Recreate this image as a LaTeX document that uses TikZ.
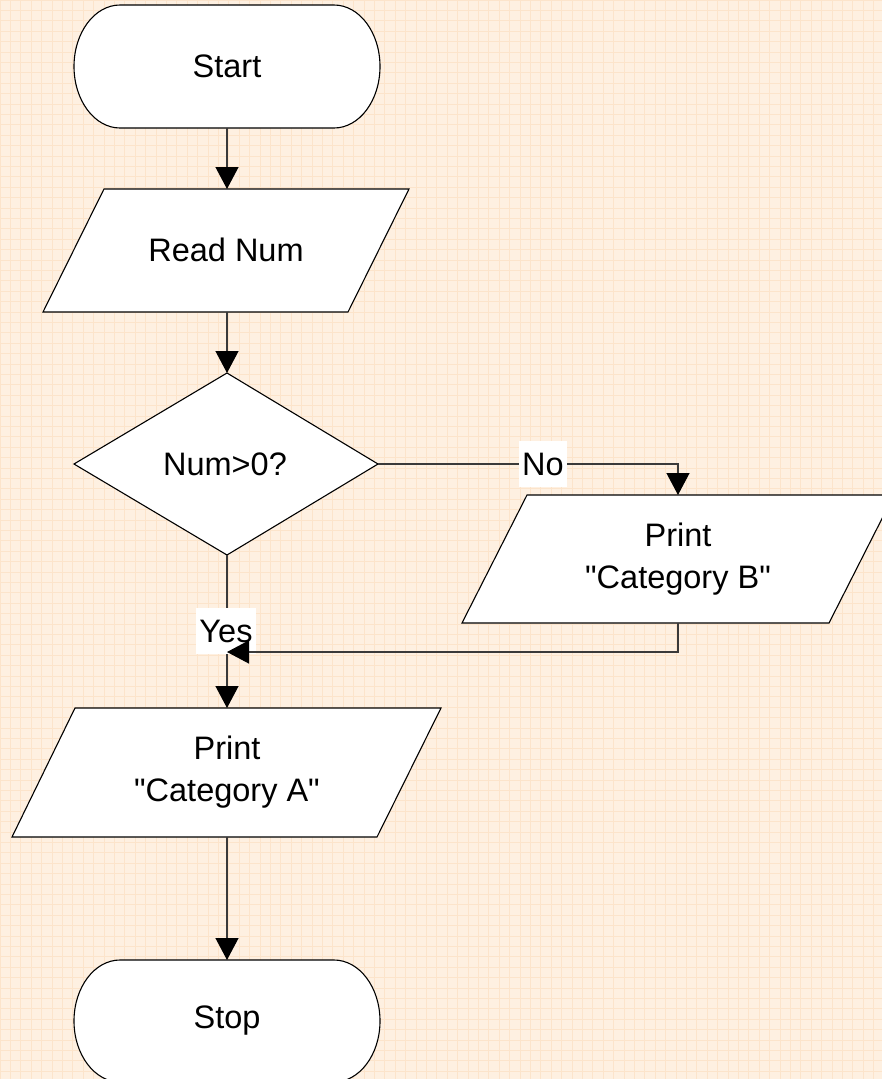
\documentclass[tikz,border=0pt]{standalone}
\usepackage{fontspec}
\setmainfont{Liberation Sans}[Ligatures=TeXOff]
\usetikzlibrary{arrows.meta,calc}

\definecolor{paper}{HTML}{FEF0E1}
\definecolor{gridline}{HTML}{FCE4CB}
\definecolor{wire}{HTML}{3A3A3A}

\tikzset{
  shapeline/.style={draw=black, fill=white, line width=1.1pt, line join=miter},
  wireline/.style={draw=wire, line width=1.3pt},
  flow/.style={wireline, -{Triangle[width=23pt,length=22pt,color=black,fill=black]}},
  lbl/.style={font=\fontsize{32.5}{42}\selectfont, align=center, inner sep=0pt},
  tag/.style={lbl, fill=white, inner xsep=3pt, minimum height=46pt},
}

% terminal (stadium) with centre #1, half width #2, half height #3
\newcommand{\terminalpath}[3]{%
  \path[shapeline] ($#1+(-#2+46,-#3)$) -- ($#1+(#2-46,-#3)$)
    arc[start angle=-90, end angle=90, x radius=46, y radius=#3]
    -- ($#1+(-#2+46,#3)$)
    arc[start angle=90, end angle=270, x radius=46, y radius=#3] -- cycle;}

\begin{document}
\begin{tikzpicture}[x=1pt, y=-1pt]
  % paper with fine grid
  \fill[paper] (0,0) rectangle (882,1079);
  \useasboundingbox (0,0) rectangle (882,1079);
  \begin{scope}
    \clip (0,0) rectangle (882,1079);
    \foreach \g in {0,10.4,...,1090} {
      \draw[gridline, line width=0.7pt] (\g,0) -- (\g,1079);
      \draw[gridline, line width=0.7pt] (0,\g) -- (882,\g);
    }
  \end{scope}

  % ---- shapes ----
  \begin{scope}
    \clip (0,0) rectangle (882,1079);
    % Start
    \terminalpath{(227,66.5)}{153}{61.5}
    \node[lbl] (start) at (227,66.5) {Start};
    \coordinate (startS) at (227,128);

    % Read Num
    \path[shapeline] (104,189) -- (409,189) -- (348,312) -- (43,312) -- cycle;
    \node[lbl] (read) at (226,250) {Read Num};
    \coordinate (readN) at (227,189);
    \coordinate (readS) at (227,312);

    % decision
    \path[shapeline] (227,373) -- (378,464) -- (227,555) -- (74,464) -- cycle;
    \node[lbl] (dec) at (225,464) {Num>0?};
    \coordinate (decN) at (227,373);
    \coordinate (decE) at (378,464);
    \coordinate (decS) at (227,555);

    % Print Category B
    \path[shapeline] (527,495) -- (894,495) -- (829,623) -- (462,623) -- cycle;
    \node[lbl] (pb) at (678,559) {Print\\"Category B"};
    \coordinate (pbN) at (678,495);
    \coordinate (pbS) at (678,623);

    % Print Category A
    \path[shapeline] (75,708) -- (441,708) -- (377,837) -- (12,837) -- cycle;
    \node[lbl] (pa) at (227,772) {Print\\"Category A"};
    \coordinate (paN) at (227,708);
    \coordinate (paS) at (227,837);

    % Stop
    \terminalpath{(227,1021)}{153}{61}
    \node[lbl] (stop) at (227,1021) {Stop};
    \coordinate (stopN) at (227,960);
  \end{scope}

  % ---- connectors ----
  \draw[flow] (startS) -- (readN);
  \draw[flow] (readS) -- (decN);

  \coordinate (noBend) at (678,464);
  \draw[flow] (decE) -- (noBend) -- (pbN);
  \node[tag] (no) at (543,464) {No};

  \draw[flow] (decS) -- (paN);
  \node[tag] (yes) at (226,631) {Yes};

  \coordinate (backBend) at (678,652);
  \coordinate (joinA) at (227,652);
  \draw[flow] (pbS) -- (backBend) -- (joinA);

  \draw[flow] (paS) -- (stopN);
\end{tikzpicture}
\end{document}
